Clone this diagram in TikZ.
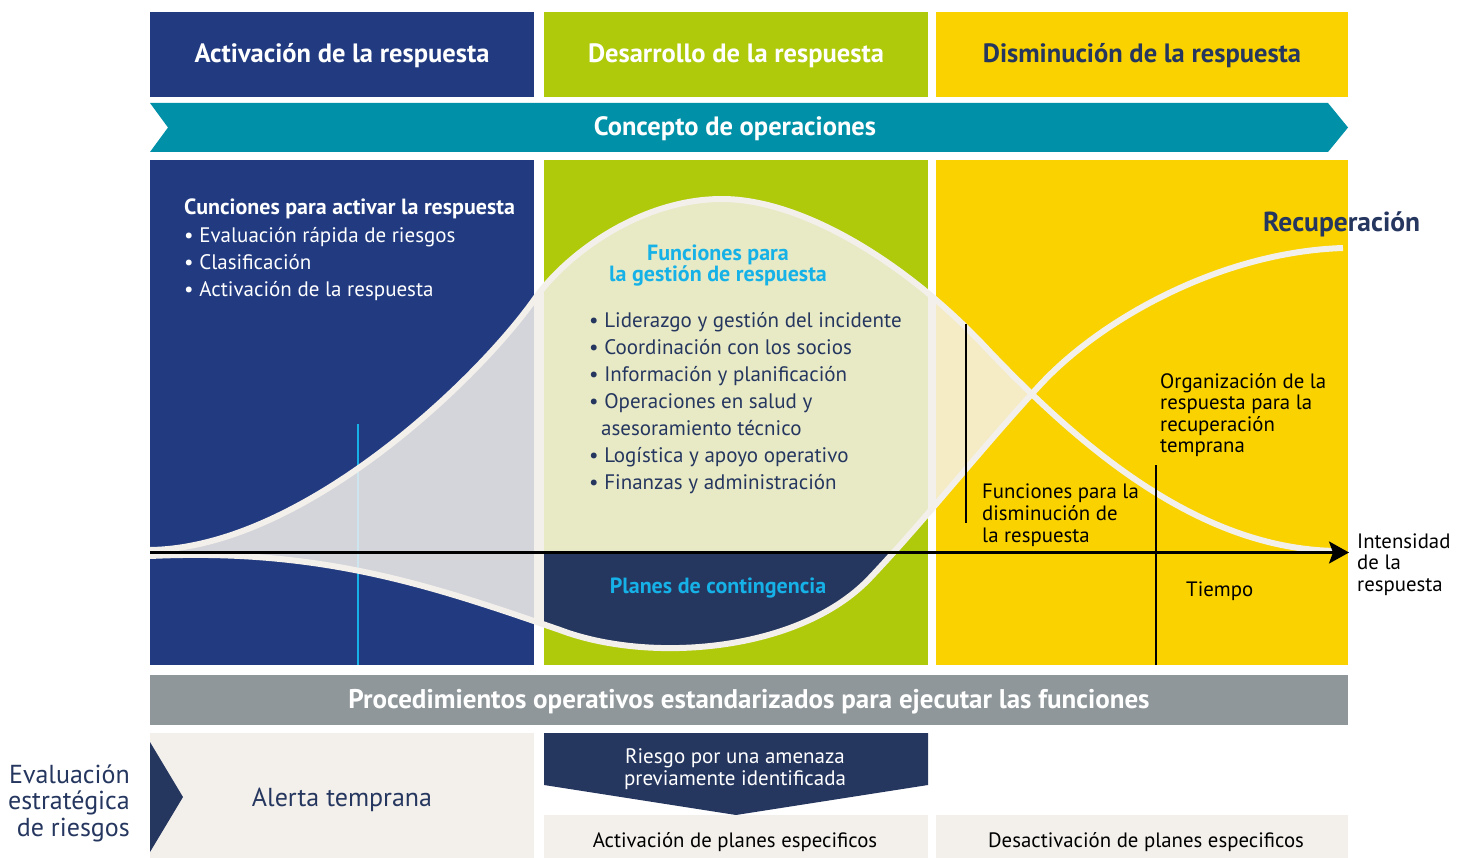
\documentclass[tikz,border=0pt]{standalone}
\usepackage{fontspec}
\setmainfont{PT Sans}
\usetikzlibrary{arrows.meta}

\definecolor{actblue}{HTML}{213A80}
\definecolor{devgreen}{HTML}{AFCA0B}
\definecolor{decyellow}{HTML}{FAD200}
\definecolor{opsteal}{HTML}{0091A8}
\definecolor{darknavy}{HTML}{25365F}
\definecolor{brightcyan}{HTML}{16B1E7}
\definecolor{sopgrey}{HTML}{8F979A}
\definecolor{paper}{HTML}{F3F0EB}
\definecolor{actgrey}{HTML}{D4D5DB}
\definecolor{devcream}{HTML}{E8EAC6}
\definecolor{decpale}{HTML}{F5EBC4}
\definecolor{palecyan}{HTML}{CDE5EE}

\newcommand{\bigbold}{\fontsize{26.5}{30}\selectfont\bfseries}
\newcommand{\bodytext}{\fontsize{21}{27}\selectfont}
\newcommand{\boldbody}{\fontsize{22}{27}\selectfont\bfseries}
\newcommand{\smalltext}{\fontsize{20.8}{22}\selectfont}
\newcommand{\largetext}{\fontsize{26}{28}\selectfont}

% the two curves
\newcommand{\bellcurve}{(150,550) .. controls (300,548) and (474,384) .. (534,300)
    .. controls (565,255) and (640,199) .. (722,199)
    .. controls (800,199) and (905,260) .. (990,352)
    .. controls (1080,446) and (1200,551) .. (1340,551)}
\newcommand{\recocurve}{(150,556) .. controls (320,548) and (430,585) .. (560,630)
    .. controls (650,664) and (800,652) .. (870,578)
    .. controls (925,520) and (980,450) .. (1040,385)
    .. controls (1100,320) and (1220,252) .. (1343,248)}

\begin{document}
\begin{tikzpicture}
    [x=1pt,y=-1pt,%%%%%%%%%%%%%%%%%%%%%%%%%%%%%%
        hdr/.style={minimum width=384pt,minimum height=85pt,inner sep=0pt,font=\bigbold,
            text height=19pt,text depth=2pt},
        curve/.style={draw=paper,line width=6pt},
        tick/.style={draw=black,line width=2.2pt},
        bullet/.style={anchor=base west,inner sep=0pt,font=\bodytext},
        label/.style={anchor=base west,inner sep=0pt,font=\smalltext},
        centre/.style={anchor=base,inner sep=0pt},
    ]%%%%%%%%%%%%%%%%%%%%%%%%%%%%%%

\useasboundingbox (0,0) rectangle (1466,858);

% phase headers
\node[hdr, fill=actblue, text=white] (hact) at (342,54.5) {Activación de la respuesta};
\node[hdr, fill=devgreen, text=white] (hdev) at (736,54.5) {Desarrollo de la respuesta};
\node[hdr, fill=decyellow, text=darknavy, minimum width=412pt] (hdec) at (1142,54.5) {Disminución de la respuesta};

% concept band
\fill[opsteal] (150,103) -- (1328,103) -- (1348,127.5) -- (1328,152) -- (150,152) -- (168,127.5) -- cycle;
\node[centre, font=\bigbold, text=white] (concept) at (735,136) {Concepto de operaciones};

% panels
\fill[actblue] (150,160) rectangle (534,665);
\fill[devgreen] (544,160) rectangle (928,665);
\fill[decyellow] (936,160) rectangle (1348,665);

\coordinate (cyantop) at (358,424);
\coordinate (cyanbot) at (358,665);
\draw[brightcyan, line width=2pt] (cyantop) -- (cyanbot);

% area between the curves
\begin{scope}
  \clip \bellcurve -- (1340,700) -- (150,700) -- cycle;
  \clip \recocurve -- (1343,100) -- (150,100) -- cycle;
  \fill[paper] (150,160) rectangle (1348,665);
  \fill[actgrey] (150,160) rectangle (534,665);
  \fill[devcream] (544,160) rectangle (928,552);
  \fill[darknavy] (544,552) rectangle (928,665);
  \fill[decpale] (936,160) rectangle (1348,665);
  \draw[palecyan, line width=2pt] (cyantop) -- (cyanbot);
\end{scope}

\draw[curve] \bellcurve;
\draw[curve] \recocurve;

% axis and markers
\coordinate (origin) at (150,552.5);
\coordinate (axisend) at (1349,552.5);
\draw[line width=2.5pt, -{Stealth[length=20pt,width=22pt,inset=4pt]}] (origin) -- (axisend);
\coordinate (dectop) at (966,324);
\coordinate (decbot) at (966,523);
\draw[tick] (dectop) -- (decbot);
\coordinate (rectop) at (1156,465);
\coordinate (recbot) at (1156,665);
\draw[tick] (rectop) -- (recbot);

% activation functions
\node[bullet, font=\boldbody, text=white] (acttitle) at (184,215) {Cunciones para activar la respuesta};
\foreach \y/\t [count=\i] in {243/Evaluación rápida de riesgos, 270/Clasificación, 297/Activación de la respuesta}
    \node[bullet, text=white] (act\i) at (184,\y) {• \t};

% management functions
\node[centre, font=\boldbody, text=brightcyan] (gesttitle1) at (718,261) {Funciones para};
\node[centre, font=\boldbody, text=brightcyan] (gesttitle2) at (718,282) {la gestión de respuesta};
\foreach \y/\t [count=\i] in {327/Liderazgo y gestión del incidente, 354/Coordinación con los socios, 381/Información y planificación, 408/Operaciones en salud y, 462/Logística y apoyo operativo, 489/Finanzas y administración}
    \node[bullet, text=darknavy] (gest\i) at (589,\y) {• \t};
\node[bullet, text=darknavy] (gestcont) at (601,435) {asesoramiento técnico};
\node[centre, font=\boldbody, text=brightcyan] (plans) at (718,593) {Planes de contingencia};

% decrease phase labels
\node[anchor=base west, inner sep=0pt, font=\fontsize{27.5}{30}\selectfont\bfseries, text=darknavy] (recov) at (1263,232) {Recuperación};
\foreach \y/\t [count=\i] in {388/Organización de la, 409/respuesta para la, 431/recuperación, 452/temprana}
    \node[label] (org\i) at (1160,\y) {\t};
\foreach \y/\t [count=\i] in {498/Funciones para la, 520/disminución de, 542/la respuesta}
    \node[label] (dim\i) at (982,\y) {\t};
\node[label] (time) at (1186,596) {Tiempo};
\foreach \y/\t [count=\i] in {548/Intensidad, 569/de la, 591/respuesta}
    \node[label] (int\i) at (1357,\y) {\t};

% procedures bar
\node[fill=sopgrey, minimum width=1198pt, minimum height=50pt, inner sep=0pt, font=\fontsize{27}{30}\selectfont\bfseries,
    text height=19pt, text depth=2pt, text=white] (sop) at (749,700) {Procedimientos operativos estandarizados para ejecutar las funciones};

% bottom row
\fill[paper] (150,733) rectangle (534,858);
\fill[darknavy] (150,742) -- (183,797) -- (150,852) -- cycle;
\node[centre, font=\largetext, text=darknavy] (alert) at (342,806) {Alerta temprana};
\foreach \y/\t [count=\i] in {783/Evaluación, 809/estratégica, 836/de riesgos}
    \node[anchor=base east, inner sep=0pt, font=\largetext, text=darknavy] (strat\i) at (130,\y) {\t};

\fill[darknavy] (544,733) -- (928,733) -- (928,785) -- (736,815) -- (544,785) -- cycle;
\node[centre, font=\bodytext, text=white] (risk1) at (735,763) {Riesgo por una amenaza};
\node[centre, font=\bodytext, text=white] (risk2) at (735,785) {previamente identificada};
\fill[paper] (544,815) rectangle (928,858);
\fill[paper] (936,815) rectangle (1348,858);
\node[centre, font=\smalltext] (planon) at (735,847) {Activación de planes especificos};
\node[centre, font=\smalltext] (planoff) at (1146,847) {Desactivación de planes especificos};
\end{tikzpicture}
\end{document}
